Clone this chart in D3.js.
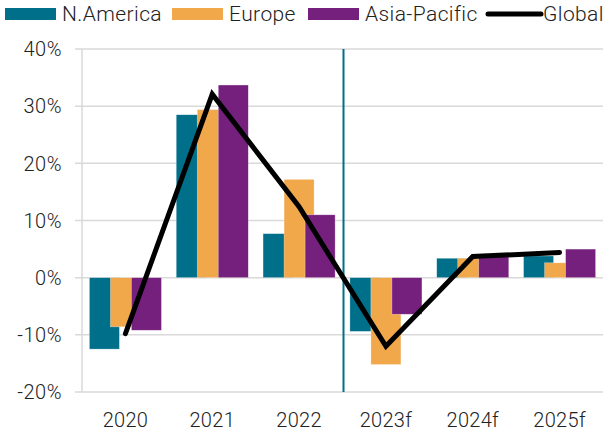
<!DOCTYPE html>
<html><head><meta charset="utf-8">
<script src="https://cdn.jsdelivr.net/npm/d3@7"></script>
<style>body{margin:0;background:#fff}svg{display:block}text{font-family:Roboto,"Open Sans",sans-serif;font-weight:300;fill:#222}</style>
</head><body>
<svg id="c" width="608" height="436"></svg>
<script>
const categories = ["2020","2021","2022","2023f","2024f","2025f"];
const seriesNames = ["N.America","Europe","Asia-Pacific"];
const northAmerica = [-12.5, 28.5, 7.7, -9.4, 3.4, 3.8];
const europe = [-8.6, 29.4, 17.2, -15.2, 3.4, 2.6];
const asiaPacific = [-9.2, 33.7, 11.0, -6.4, 4.1, 5.0];
const globalVals = [-9.8, 32.1, 12.4, -12.0, 3.7, 4.4];
const yTicks = [-20,-10,0,10,20,30,40];
const colors = ["#006F8A","#F0A84B","#76207D"];

const svg = d3.select("#c");
const x = d3.scaleBand().domain(categories).range([82,603]).padding(0);
const y = d3.scaleLinear().domain([-20,40]).range([392,49]);
const bw = x.bandwidth();
const groupW = bw*0.83;
const barW = groupW*30/72;
const step = groupW*21/72;

// gridlines
svg.append("g").selectAll("line").data(yTicks).join("line")
  .attr("x1",75).attr("x2",603).attr("y1",d=>y(d)).attr("y2",d=>y(d))
  .attr("stroke","#d9d9d9").attr("stroke-width",1.5);
// y axis line
svg.append("line").attr("x1",82).attr("x2",82).attr("y1",y(40)).attr("y2",y(-20))
  .attr("stroke","#d9d9d9").attr("stroke-width",1.5);
// y labels
svg.append("g").selectAll("text").data(yTicks).join("text")
  .attr("x",62).attr("y",d=>y(d)).attr("dy","0.36em").attr("text-anchor","end")
  .attr("font-size",20).attr("letter-spacing",0.5).text(d=>d+"%");
// x labels
svg.append("g").selectAll("text").data(categories).join("text")
  .attr("x",d=>x(d)+bw/2).attr("y",427).attr("text-anchor","middle")
  .attr("font-size",20).attr("letter-spacing",0.3).text(d=>d);

// bars
const seriesData = [northAmerica, europe, asiaPacific];
seriesData.forEach((vals,si)=>{
  svg.append("g").selectAll("rect").data(vals).join("rect")
    .attr("x",(d,i)=>x(categories[i])+bw/2-groupW/2+si*step)
    .attr("width",barW)
    .attr("y",d=>Math.min(y(d),y(0)))
    .attr("height",d=>Math.abs(y(d)-y(0)))
    .attr("fill",colors[si])
    .attr("stroke","#ffffff").attr("stroke-opacity",0.5).attr("stroke-width",0.6);
});

// divider
const xd = x("2023f");
svg.append("line").attr("x1",xd+1).attr("x2",xd+1).attr("y1",y(40)).attr("y2",y(-20))
  .attr("stroke","#006F8A").attr("stroke-width",2);

// global line
const line = d3.line().x((d,i)=>x(categories[i])+bw/2).y(d=>y(d));
svg.append("path").datum(globalVals).attr("d",line).attr("fill","none")
  .attr("stroke","#000").attr("stroke-width",5).attr("stroke-linecap","round").attr("stroke-linejoin","miter");

// legend
const lg = svg.append("g");
const legendItems = [
  {name:"N.America",x:5,type:"rect",c:colors[0]},
  {name:"Europe",x:172,type:"rect",c:colors[1]},
  {name:"Asia-Pacific",x:308,type:"rect",c:colors[2]},
  {name:"Global",x:486,type:"line",c:"#000"}
];
legendItems.forEach(it=>{
  if(it.type==="rect"){
    lg.append("rect").attr("x",it.x).attr("y",8).attr("width",51).attr("height",12).attr("fill",it.c);
  } else {
    lg.append("line").attr("x1",it.x+2).attr("x2",it.x+55).attr("y1",14).attr("y2",14)
      .attr("stroke",it.c).attr("stroke-width",5).attr("stroke-linecap","round");
  }
  lg.append("text").attr("x",it.x+57).attr("y",21).attr("font-size",21).attr("letter-spacing",0.4).text(it.name);
});
</script>
</body></html>
